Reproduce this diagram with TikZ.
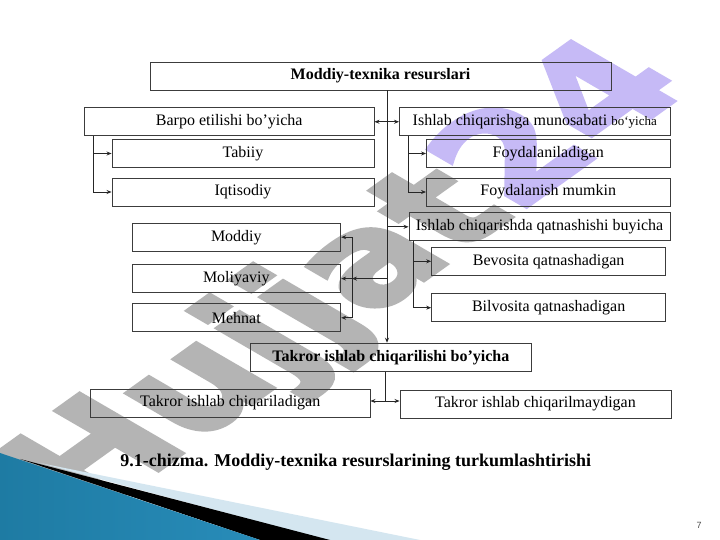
\documentclass[tikz,border=0pt]{standalone}
\usepackage{fontspec}
\setmainfont{Liberation Serif}
\newfontfamily\wmfont[BoldFeatures={FakeBold=3}]{DejaVu Sans}
\newfontfamily\numfont{Liberation Sans}
\usetikzlibrary{arrows.meta,calc}
\definecolor{wmgray}{RGB}{180,180,180}
\definecolor{wmpurple}{RGB}{198,186,246}
\definecolor{blueL}{RGB}{30,123,163}
\definecolor{blueM}{RGB}{82,185,224}
\definecolor{blueR}{RGB}{40,140,185}
\definecolor{lightband}{RGB}{212,230,240}
\definecolor{boxline}{RGB}{60,60,60}
\begin{document}
\begin{tikzpicture}[x=1pt,y=1pt,
  box/.style={draw=boxline, line width=0.9pt, minimum height=28pt, inner sep=0pt,
    font=\fontsize{16}{18}\selectfont},
  conn/.style={line width=0.8pt, draw=black!85},
  tip/.style={-{Stealth[length=5pt,width=4pt]}},
  dtip/.style={{Stealth[length=5pt,width=4pt]}-{Stealth[length=5pt,width=4pt]}}
]
\useasboundingbox (0,0) rectangle (720,540);
\fill[white] (0,0) rectangle (720,540);

% watermark
\begin{scope}[shift={(352,258)}, xscale=1.55, rotate=48]
  \node[transform shape, inner sep=0pt, font=\wmfont\bfseries\fontsize{122}{122}\selectfont] (wm)
    {\textcolor{wmgray}{Hujjat}\textcolor{wmpurple}{24}};
\end{scope}

% bottom-left decoration
\fill[lightband] (40,77) -- (420,0) -- (327,0) -- cycle;
\fill[black] (20,81) -- (330,0) -- (260,0) -- cycle;
\shade[left color=blueL, middle color=blueM, right color=blueR] (0,87) -- (260,0) -- (0,0) -- cycle;

% boxes
\node[box, minimum width=461pt] (top) at (380.5,464) {\bfseries Moddiy-texnika resurslari};
\node[box, minimum width=289.5pt] (barpo) at (229.25,418.25) {Barpo etilishi bo’yicha};
\node[box, minimum width=270.5pt] (ish1) at (534.75,418.25) {Ishlab chiqarishga munosabati {\fontsize{13}{14}\selectfont bo‘yicha}};
\node[box, minimum width=262pt] (tab) at (243,386.5) {Tabiiy};
\node[box, minimum width=262pt] (iqt) at (243,348) {Iqtisodiy};
\node[box, minimum width=243.5pt] (foy1) at (548.25,386.5) {Foydalaniladigan};
\node[box, minimum width=243.5pt] (foy2) at (548.25,348) {Foydalanish mumkin};
\node[box, minimum width=261pt] (ish2) at (539.5,313.2) {Ishlab chiqarishda qatnashishi buyicha};
\node[box, minimum width=234pt] (bev) at (548.65,278.7) {Bevosita qatnashadigan};
\node[box, minimum width=234pt] (bil) at (548.65,232.3) {Bilvosita qatnashadigan};
\node[box, minimum width=208.7pt] (mod) at (236.35,302.8) {Moddiy};
\node[box, minimum width=208.7pt] (mol) at (236.35,261.4) {Moliyaviy};
\node[box, minimum width=208.7pt] (meh) at (236.35,222.2) {Mehnat};
\node[box, minimum width=280.3pt] (tak) at (390.85,182.8) {\bfseries Takror ishlab chiqarilishi bo’yicha};
\node[box, minimum width=279.5pt] (tk1) at (230.25,136.9) {Takror ishlab chiqariladigan};
\node[box, minimum width=271pt] (tk2) at (535.5,136) {Takror ishlab chiqarilmaydigan};

% connectors
\coordinate (m) at (387,0);
\draw[conn, tip] (top.south -| m) -- (tak.north -| m);
\draw[conn, dtip] (barpo.east) -- (ish1.west);
\coordinate (b1) at (93.7,0);
\draw[conn, tip] (barpo.south -| b1) |- (tab.west);
\draw[conn, tip] (barpo.south -| b1) |- (iqt.west);
\coordinate (b2) at (408.6,0);
\draw[conn, tip] (ish1.south -| b2) |- (foy1.west);
\draw[conn, tip] (ish1.south -| b2) |- (foy2.west);
\draw[conn, tip] (ish2.west -| m) -- (ish2.west);
\coordinate (b3) at (413,0);
\draw[conn, tip] (ish2.south -| b3) |- (bev.west);
\draw[conn, tip] (ish2.south -| b3) |- (bil.west);
\coordinate (b4) at (352,0);
\draw[conn] (b4 |- mod.east) -- (b4 |- meh.east);
\draw[conn, tip] (b4 |- mod.east) -- (mod.east);
\draw[conn, tip] (b4 |- mol.east) -- (mol.east);
\draw[conn, tip] (b4 |- meh.east) -- (meh.east);
\draw[conn, tip] (m |- mol.east) -- (b4 |- mol.east);
\coordinate (j) at (385.5,139);
\draw[conn] (tak.south -| j) -- (j);
\draw[conn, dtip] (tk1.east |- j) -- (tk2.west |- j);

% caption and page number
\node[font=\bfseries\fontsize{18}{20}\selectfont] (cap) at (355.8,78) {9.1-chizma. Moddiy-texnika resurslarining turkumlashtirishi};
\node[font=\numfont\fontsize{9}{10}\selectfont, text=black!70] (pg) at (699,15) {7};
\end{tikzpicture}
\end{document}
